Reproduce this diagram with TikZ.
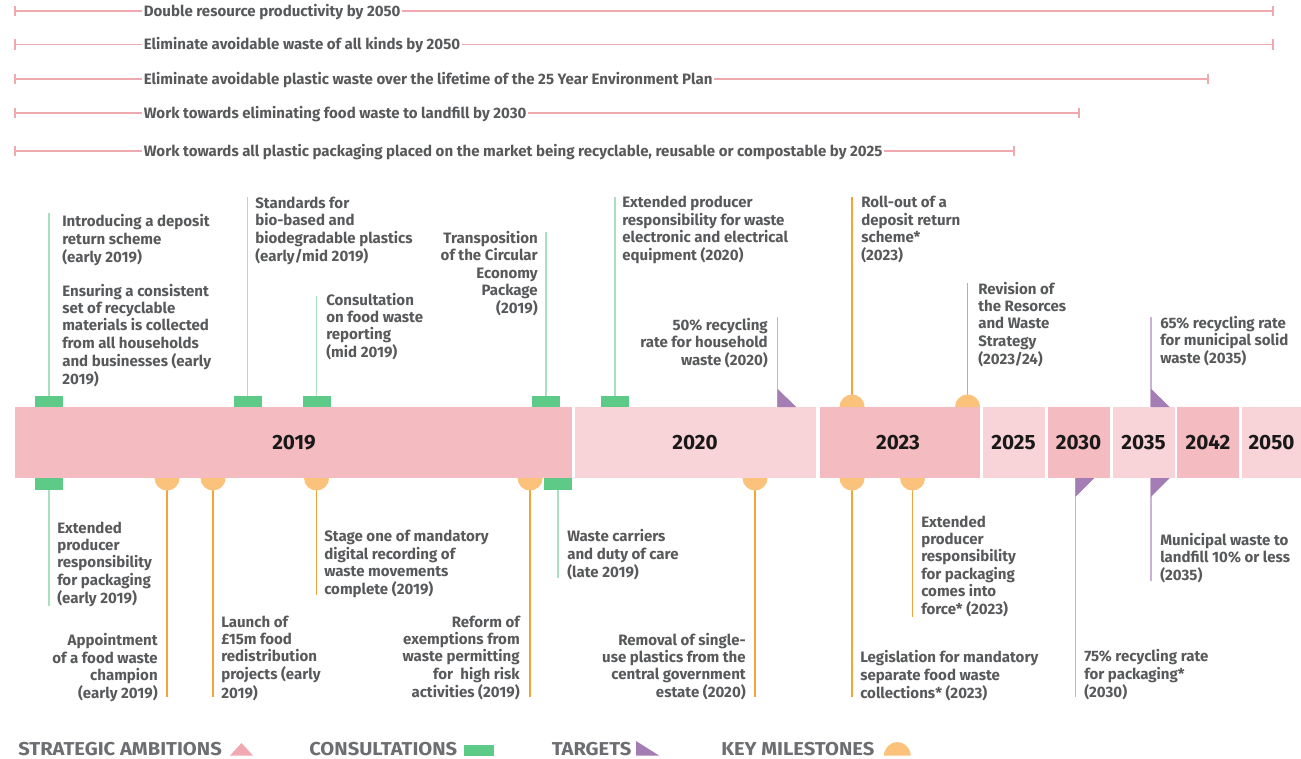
\documentclass[tikz,border=0pt]{standalone}
\usepackage{fontspec}
\setmainfont{Fira Sans}
\usepackage{graphicx}
\definecolor{txtc}{HTML}{58595B}
\definecolor{legc}{HTML}{6D6E71}
\definecolor{ambc}{HTML}{F1A9B0}
\definecolor{segdk}{HTML}{F4BBC1}
\definecolor{seglt}{HTML}{F8D3D7}
\definecolor{consfill}{HTML}{5DCB87}
\definecolor{consln}{HTML}{A8E0C0}
\definecolor{milfill}{HTML}{FBC27C}
\definecolor{milln}{HTML}{F2A43A}
\definecolor{tgtfill}{HTML}{A57DB5}
\definecolor{tgtln}{HTML}{CBB1D6}
\newcommand\tabL[1]{\begin{tabular}[t]{@{}l@{}}#1\end{tabular}}
\newcommand\tabR[1]{\begin{tabular}[t]{@{}r@{}}#1\end{tabular}}
\newcommand\mkConsUp[3]{\coordinate (#3s) at (#1,396); \coordinate (#3e) at (#1,#2);
  \draw[conslinestyle] (#3s) -- (#3e);
  \fill[consfill] (#1-14,396) rectangle (#1+14,407);}
\newcommand\mkConsDn[3]{\coordinate (#3s) at (#1,490); \coordinate (#3e) at (#1,#2);
  \draw[conslinestyle] (#3s) -- (#3e);
  \fill[consfill] (#1-14,478) rectangle (#1+14,490);}
\newcommand\mkMilUp[3]{\coordinate (#3s) at (#1,400); \coordinate (#3e) at (#1,#2);
  \draw[millinestyle] (#3s) -- (#3e);
  \fill[milfill] (#1-12.5,407) arc[start angle=180,end angle=0,radius=9.4pt] -- cycle;}
\newcommand\mkMilDn[3]{\coordinate (#3s) at (#1,485); \coordinate (#3e) at (#1,#2);
  \draw[millinestyle] (#3s) -- (#3e);
  \fill[milfill] (#1-12.5,478) arc[start angle=180,end angle=360,radius=9.4pt] -- cycle;}
\newcommand\mkTgtUp[3]{\coordinate (#3s) at (#1,407); \coordinate (#3e) at (#1,#2);
  \draw[tgtlinestyle] (#3s) -- (#3e);
  \fill[tgtfill] (#1,389) -- (#1,407) -- (#1+18.5,407) -- cycle;}
\newcommand\mkTgtDn[3]{\coordinate (#3s) at (#1,478); \coordinate (#3e) at (#1,#2);
  \draw[tgtlinestyle] (#3s) -- (#3e);
  \fill[tgtfill] (#1,478) -- (#1+18.5,478) -- (#1,496.5) -- cycle;}
\tikzset{
  body/.style={font=\fontsize{11.3}{13}\selectfont\bfseries, text=txtc, inner sep=0pt},
  bodyL/.style={body, anchor=base west},
  bodyR/.style={body, anchor=base east},
  ambtext/.style={font=\fontsize{11.3}{13}\selectfont\bfseries, text=txtc, inner xsep=1.2pt, inner ysep=0pt, anchor=base west},
  ambline/.style={draw=ambc, line width=1pt},
  yearlab/.style={font=\fontsize{15.5}{18}\selectfont\bfseries, text=black!90, inner sep=0pt},
  conslinestyle/.style={draw=consln, line width=1.1pt},
  millinestyle/.style={draw=milln, line width=1.1pt},
  tgtlinestyle/.style={draw=tgtln, line width=1.1pt},
  legtext/.style={font=\fontsize{14}{16}\selectfont\bfseries, text=legc, inner sep=0pt, anchor=base west},
}
\begin{document}
\begin{tikzpicture}[x=0.75pt,y=-0.75pt]
\useasboundingbox (0,0) rectangle (1301,759);
% strategic ambitions
\foreach \yy/\xe/\tx [count=\i] in {
  11/1273/{Double resource productivity by 2050},
  44.5/1273/{Eliminate avoidable waste of all kinds by 2050},
  79/1208/{Eliminate avoidable plastic waste over the lifetime of the 25 Year Environment Plan},
  113/1079/{Work towards eliminating food waste to landfill by 2030},
  151/1014/{Work towards all plastic packaging placed on the market being recyclable, reusable or compostable by 2025}}{
  \coordinate (amb\i L) at (15,\yy);
  \coordinate (amb\i R) at (\xe,\yy);
  \node[ambtext] (amb\i) at (142,\yy+5.5) {\tx};
  \draw[ambline] (amb\i L) -- (amb\i L -| amb\i.west);
  \draw[ambline] (amb\i.east |- amb\i R) -- (amb\i R);
  \draw[ambline] ([yshift=-4pt]amb\i L) -- ([yshift=4pt]amb\i L);
  \draw[ambline] ([yshift=-4pt]amb\i R) -- ([yshift=4pt]amb\i R);
}
% stems and markers
\mkConsUp{49}{213}{cu1}
\mkConsUp{247.5}{197}{cu2}
\mkConsUp{316.5}{296}{cu3}
\mkConsUp{546}{232}{cu4}
\mkConsUp{615}{197}{cu5}
\mkConsDn{49}{606}{cd1}
\mkConsDn{558}{578}{cd2}
\mkTgtUp{777.5}{317}{tu1}
\mkTgtUp{1151}{317}{tu2}
\mkTgtDn{1075.5}{697}{td1}
\mkTgtDn{1151}{581}{td2}
% bar segments
\fill[segdk] (15,407) rectangle (572,478);
\fill[seglt] (575,407) rectangle (816,478);
\fill[segdk] (820,407) rectangle (980,478);
\fill[seglt] (982.5,407) rectangle (1044.5,478);
\fill[segdk] (1047.5,407) rectangle (1109.5,478);
\fill[seglt] (1112.5,407) rectangle (1174.5,478);
\fill[segdk] (1177,407) rectangle (1238.5,478);
\fill[seglt] (1241.5,407) rectangle (1301,478);
\node[yearlab] (y2019) at (294,443) {2019};
\node[yearlab] (y2020) at (695,443) {2020};
\node[yearlab] (y2023) at (898,443) {2023};
\node[yearlab] (y2025) at (1013.5,443) {2025};
\node[yearlab] (y2030) at (1078.5,443) {2030};
\node[yearlab] (y2035) at (1143.5,443) {2035};
\node[yearlab] (y2042) at (1208,443) {2042};
\node[yearlab] (y2050) at (1271.5,443) {2050};
% markers sitting on the bar
\fill[consfill] (35,396) rectangle (63,407);
\mkMilUp{852}{197}{mu1}
\mkMilUp{967.5}{283}{mu2}
\mkMilDn{167}{697}{md1}
\mkMilDn{213}{697}{md2}
\mkMilDn{316.5}{595}{md3}
\mkMilDn{530}{697}{md4}
\mkMilDn{755}{697}{md5}
\mkMilDn{852}{697}{md6}
\mkMilDn{912.5}{617}{md7}
\fill[consfill] (544,478) rectangle (572,490);
% targets redrawn above bar
\fill[tgtfill] (777.5,389) -- (777.5,407) -- (796,407) -- cycle;
\fill[tgtfill] (1151,389) -- (1151,407) -- (1169.5,407) -- cycle;
\fill[tgtfill] (1075.5,478) -- (1094,478) -- (1075.5,496.5) -- cycle;
\fill[tgtfill] (1151,478) -- (1169.5,478) -- (1151,496.5) -- cycle;
% top texts
\node[bodyL] (t1) at (62,227) {\tabL{Introducing a deposit\\return scheme\\(early 2019)}};
\node[bodyL] (t2) at (62,296) {\tabL{Ensuring a consistent\\set of recyclable\\materials is collected\\from all households\\and businesses (early\\2019)}};
\node[bodyL] (t3) at (255,208.5) {\tabL{Standards for\\bio-based and\\biodegradable plastics\\(early/mid 2019)}};
\node[bodyL] (t4) at (326,305) {\tabL{Consultation\\on food waste\\reporting\\(mid 2019)}};
\node[bodyR] (t5) at (538,243.3) {\tabR{Transposition\\of the Circular\\Economy\\Package\\(2019)}};
\node[bodyL] (t6) at (622,208) {\tabL{Extended producer\\responsibility for waste\\electronic and electrical\\equipment (2020)}};
\node[bodyR] (t7) at (768,330) {\tabR{50\% recycling\\rate for household\\waste (2020)}};
\node[bodyL] (t8) at (861,208) {\tabL{Roll-out of a\\deposit return\\scheme*\\(2023)}};
\node[bodyL] (t9) at (978,294) {\tabL{Revision of\\the Resorces\\and Waste\\Strategy\\(2023/24)}};
\node[bodyL] (t10) at (1160,328) {\tabL{65\% recycling rate\\for municipal solid\\waste (2035)}};
% bottom texts
\node[bodyL] (b1) at (57,533) {\tabL{Extended\\producer\\responsibility\\for packaging\\(early 2019)}};
\node[bodyR] (b2) at (158,645.7) {\tabR{Appointment\\of a food waste\\champion\\(early 2019)}};
\node[bodyL] (b3) at (221,627) {\tabL{Launch of\\£15m food\\redistribution\\projects (early\\2019)}};
\node[bodyL] (b4) at (324,541.7) {\tabL{Stage one of mandatory\\digital recording of\\waste movements\\complete (2019)}};
\node[bodyR] (b5) at (520,627) {\tabR{Reform of\\exemptions from\\waste permitting\\for\ \ high risk\\activities (2019)}};
\node[bodyL] (b6) at (567,541.7) {\tabL{Waste carriers\\and duty of care\\(late 2019)}};
\node[bodyR] (b7) at (746,645) {\tabR{Removal of single-\\use plastics from the\\central government\\estate (2020)}};
\node[bodyL] (b8) at (921,527) {\tabL{Extended\\producer\\responsibility\\for packaging\\comes into\\force* (2023)}};
\node[bodyL] (b9) at (860,662.7) {\tabL{Legislation for mandatory\\separate food waste\\collections* (2023)}};
\node[bodyL] (b10) at (1160,545) {\tabL{Municipal waste to\\landfill 10\% or less\\(2035)}};
\node[bodyL] (b11) at (1084,661.7) {\tabL{75\% recycling rate\\for packaging*\\(2030)}};
% legend
\node[legtext] (lg1) at (18,755) {\scalebox{1.08}[1]{STRATEGIC AMBITIONS}};
\fill[ambc] (230,755.5) -- (253,755.5) -- (241.5,743) -- cycle;
\node[legtext] (lg2) at (309,755) {\scalebox{1.08}[1]{CONSULTATIONS}};
\fill[consfill] (464,744.5) rectangle (494,755.5);
\node[legtext] (lg3) at (551.5,755) {\scalebox{1.08}[1]{TARGETS}};
\fill[tgtfill] (636,741) -- (636,755.5) -- (659,755.5) -- cycle;
\node[legtext] (lg4) at (721,755) {\scalebox{1.08}[1]{KEY MILESTONES}};
\fill[milfill] (884,755.5) arc[start angle=180,end angle=0,radius=10pt] -- cycle;
\end{tikzpicture}
\end{document}
